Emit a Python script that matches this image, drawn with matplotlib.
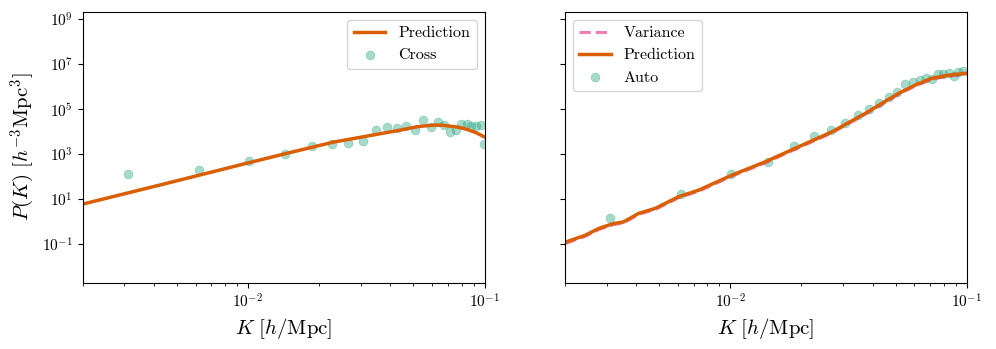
import matplotlib
matplotlib.use('Agg')
import matplotlib.pyplot as plt

plt.rcParams['font.family'] = 'serif'
plt.rcParams['font.serif'] = ['cmr10']
plt.rcParams['mathtext.fontset'] = 'cm'
plt.rcParams['axes.unicode_minus'] = False
plt.rcParams['axes.formatter.use_mathtext'] = True

# cross spectrum (left)
k_cross = [0.0031, 0.0062, 0.0101, 0.0144, 0.0187, 0.0227, 0.0266, 0.0307, 0.0348,
           0.0388, 0.0427, 0.0467, 0.0507, 0.055, 0.0594, 0.0635, 0.0675, 0.0716,
           0.0755, 0.0795, 0.084, 0.088, 0.0922, 0.0962, 0.0995]
p_cross = [1.4e2, 2.1e2, 5.0e2, 1.0e3, 2.3e3, 3.0e3, 3.1e3, 4.0e3, 1.2e4,
           1.6e4, 1.5e4, 1.9e4, 1.2e4, 3.3e4, 1.6e4, 2.8e4, 2.0e4, 9.5e3,
           1.2e4, 2.3e4, 2.2e4, 1.8e4, 1.9e4, 2.1e4, 2.9e3]

k_pred_cross = [0.002, 0.0045, 0.0101, 0.015, 0.0229, 0.0318, 0.044, 0.0518, 0.056,
                0.0608, 0.066, 0.0716, 0.078, 0.0842, 0.092, 0.1]
p_pred_cross = [6.2, 51, 430, 1.2e3, 3.5e3, 6.5e3, 1.2e4, 1.7e4, 1.85e4,
                2.0e4, 2.0e4, 1.8e4, 1.6e4, 1.3e4, 9.3e3, 6.0e3]

# auto spectrum (right)
k_auto = [0.0031, 0.0062, 0.0101, 0.0144, 0.0187, 0.0227, 0.0266, 0.0307, 0.0348,
          0.0388, 0.0427, 0.0467, 0.0507, 0.055, 0.0594, 0.0635, 0.0675, 0.0716,
          0.0755, 0.0795, 0.084, 0.088, 0.0922, 0.0962]
p_auto = [1.5, 17, 130, 440, 2.3e3, 6.9e3, 1.2e4, 2.5e4, 5.6e4,
          1.07e5, 1.86e5, 3.4e5, 5.8e5, 1.3e6, 1.6e6, 2.0e6, 2.4e6, 2.2e6,
          3.6e6, 3.7e6, 4.3e6, 3.0e6, 4.4e6, 5.2e6]

k_pred_auto = [0.00201, 0.00244, 0.00278, 0.00321, 0.00354, 0.0041, 0.00482, 0.00605,
               0.00735, 0.01016, 0.01406, 0.01945, 0.0269, 0.0372, 0.0438, 0.0514,
               0.0605, 0.0711, 0.0836, 0.0984, 0.1]
p_pred_auto = [0.126, 0.257, 0.513, 0.85, 1.0, 2.4, 4.0, 13.2,
               25.7, 120, 468, 2.19e3, 1.0e4, 6.6e4, 1.86e5, 5.1e5,
               1.2e6, 2.4e6, 3.3e6, 4.0e6, 4.0e6]
p_var_auto = [0.11, 0.23, 0.46, 0.76, 0.9, 2.15, 3.6, 11.9,
              23, 108, 420, 1.97e3, 9.0e3, 6.0e4, 1.68e5, 4.6e5,
              1.1e6, 2.2e6, 3.0e6, 3.7e6, 3.7e6]

teal = '#1b9e77'
orange = '#d95f02'
pink = '#e7298a'

fig, (ax1, ax2) = plt.subplots(1, 2, figsize=(9.96, 3.49), dpi=100, sharey=True)
fig.subplots_adjust(left=0.083, right=0.9706, bottom=0.19, top=0.9665, wspace=0.2)

ax1.plot(k_pred_cross, p_pred_cross, color=orange, lw=2.5, label='Prediction')
ax1.scatter(k_cross, p_cross, s=40, color=teal, alpha=0.38, linewidths=0.5, label='Cross')
ax1.legend(loc='upper right', fontsize=11.5)

ax2.plot(k_pred_auto, p_var_auto, color=pink, lw=2.2, ls='--', alpha=0.6, label='Variance')
ax2.plot(k_pred_auto, p_pred_auto, color=orange, lw=2.5, label='Prediction')
ax2.scatter(k_auto, p_auto, s=40, color=teal, alpha=0.38, linewidths=0.5, label='Auto')
ax2.legend(loc='upper left', fontsize=11.5)

for ax in (ax1, ax2):
    ax.set_xscale('log')
    ax.set_yscale('log')
    ax.set_xlim(0.002, 0.1)
    ax.set_ylim(2e-3, 2.2e9)
    ax.set_yticks([1e-1, 1e1, 1e3, 1e5, 1e7, 1e9])
    ax.yaxis.set_minor_locator(matplotlib.ticker.NullLocator())
    ax.tick_params(labelsize=11)
    ax.set_xlabel(r'$K\ [h/\mathrm{Mpc}]$', fontsize=15)

ax1.set_ylabel(r'$P(K)\ [h^{-3}\mathrm{Mpc}^3]$', fontsize=15)

fig.savefig('out.png', dpi=100)
